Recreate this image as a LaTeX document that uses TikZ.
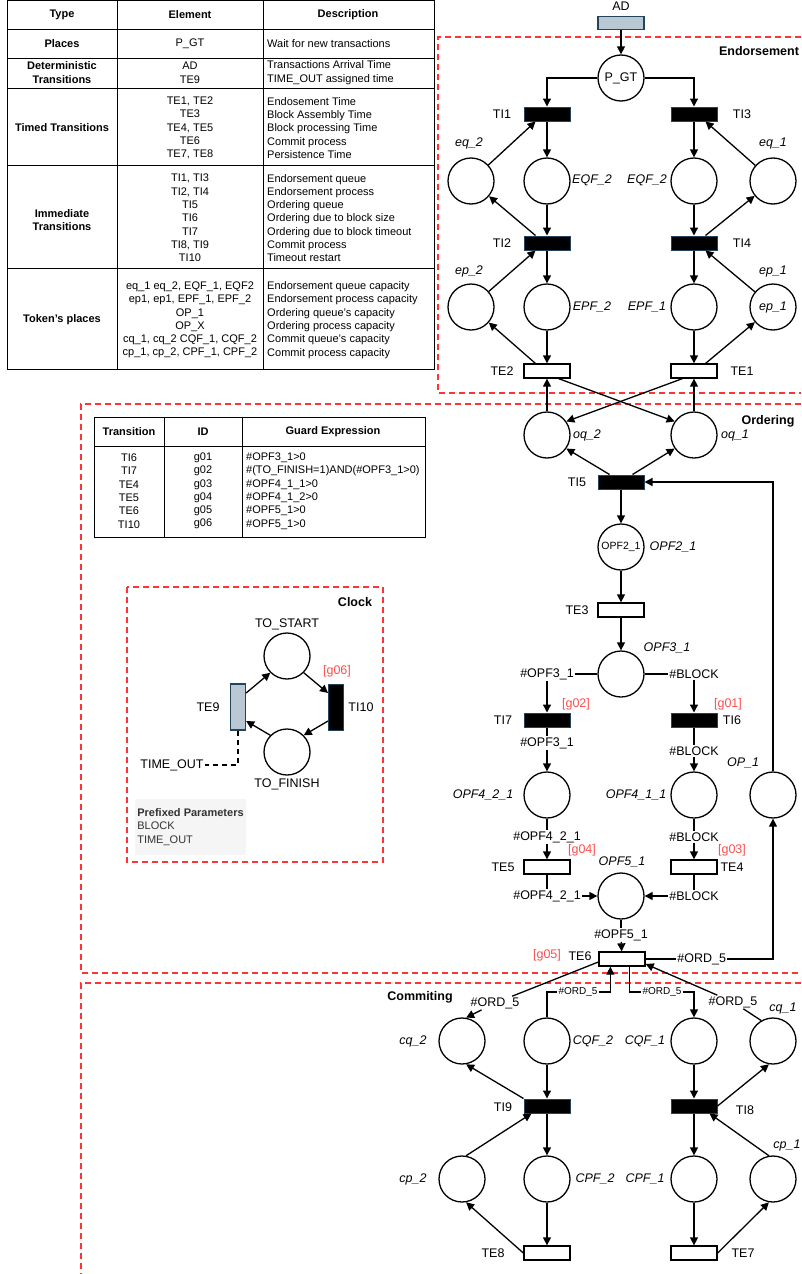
\documentclass[tikz,border=0pt]{standalone}
\usepackage{fontspec}
\setmainfont{Liberation Sans}
\usepackage{tikz}
\usetikzlibrary{shapes.geometric, arrows.meta, positioning}
\definecolor{zonered}{HTML}{FF3333}
\definecolor{guardred}{HTML}{FF4D4D}
\definecolor{tdark}{HTML}{23445D}
\definecolor{tblue}{HTML}{BAC8D3}
\definecolor{gtxt}{HTML}{333333}
\definecolor{gfill}{HTML}{F5F5F5}

\begin{document}
\begin{tikzpicture}[x=1pt, y=-1pt,
  plc/.style={draw, circle, line width=1.3pt, minimum size=46pt, inner sep=0pt,
              font=\fontsize{12.5}{14}\selectfont},
  imm/.style={draw=tdark, fill=black, line width=1pt, minimum width=46pt,
              minimum height=14pt, inner sep=0pt},
  tmd/.style={draw, fill=white, line width=1.3pt, minimum width=46pt,
              minimum height=14pt, inner sep=0pt},
  det/.style={draw=tdark, fill=tblue, line width=1.3pt, minimum width=46pt,
              minimum height=13pt, inner sep=0pt},
  lbl/.style={font=\fontsize{12.5}{14}\selectfont, inner sep=1pt},
  ital/.style={font=\fontsize{12.5}{14}\selectfont\itshape, inner sep=1pt},
  grd/.style={lbl, text=guardred},
  edl/.style={lbl, fill=white},
  sedl/.style={fill=white, inner sep=1pt, font=\fontsize{10}{11}\selectfont},
  arr/.style={-{Triangle[length=8pt,width=8pt]}, line width=1.3pt},
  ln/.style={line width=1.3pt},
  zone/.style={draw=zonered, line width=1.3pt, dash pattern=on 6pt off 4pt},
  zname/.style={font=\fontsize{12.5}{14}\selectfont\bfseries, inner sep=0pt},
  tline/.style={line width=1pt},
  hcell/.style={font=\fontsize{11}{13.3}\selectfont\bfseries, align=center, inner sep=0pt},
  cell/.style={font=\fontsize{11}{13.3}\selectfont, align=center, inner sep=0pt},
  dcell/.style={cell, align=left, anchor=west},
  pbox/.style={fill=gfill, text=gtxt, minimum width=111pt, minimum height=56pt,
               align=left, inner sep=2pt,
               font=\fontsize{11}{13.5}\selectfont},
]
  \useasboundingbox (0,0) rectangle (802,1274);

  % table of elements
  \draw[tline] (7,0.5) rectangle (434,369);
  \foreach \yy in {29,58,88,165,268} \draw[tline] (7,\yy) -- (434,\yy);
  \foreach \xx in {117,263} \draw[tline] (\xx,0.5) -- (\xx,369);

  \node[hcell] (tType) at (62,15) {Type};
  \node[hcell] (tElem) at (190,15) {Element};
  \node[hcell] (tDesc) at (348,15) {Description};
  \node[hcell] (tPl) at (62,44) {Places};
  \node[cell] (ePl) at (190,44) {P\_GT};
  \node[dcell] (dPl) at (267,44) {Wait for new transactions};
  \node[hcell, font=\fontsize{11}{14}\selectfont\bfseries] (tDe) at (62,73) {Deterministic\\Transitions};
  \node[cell, font=\fontsize{11}{14}\selectfont] (eDe) at (190,73) {AD\\TE9};
  \node[dcell, font=\fontsize{11}{14}\selectfont] (dDe) at (267,73) {Transactions Arrival Time\\TIME\_OUT assigned time};
  \node[hcell] (tTi) at (62,128) {Timed Transitions};
  \node[cell] (eTi) at (190,128) {TE1, TE2\\TE3\\TE4, TE5\\TE6\\TE7, TE8};
  \node[dcell] (dTi) at (267,128) {Endosement Time\\Block Assembly Time\\Block processing Time\\Commit process\\Persistence Time};
  \node[hcell] (tIm) at (62,220) {Immediate\\Transitions};
  \node[cell] (eIm) at (190,218) {TI1, TI3\\TI2, TI4\\TI5\\TI6\\TI7\\TI8, TI9\\TI10};
  \node[dcell] (dIm) at (267,218) {Endorsement queue\\Endorsement process\\Ordering queue\\Ordering due to block size\\Ordering due to block timeout\\Commit process\\Timeout restart};
  \node[hcell] (tTo) at (62,320) {Token's places};
  \node[cell] (eTo) at (190,320) {eq\_1 eq\_2, EQF\_1, EQF2\\ep1, ep1, EPF\_1, EPF\_2\\OP\_1\\OP\_X\\cq\_1, cq\_2 CQF\_1, CQF\_2\\cp\_1, cp\_2, CPF\_1, CPF\_2};
  \node[dcell] (dTo) at (267,320) {Endorsement queue capacity\\Endorsement process capacity\\Ordering queue's capacity\\Ordering process capacity\\Commit queue's capacity\\Commit process capacity};

  % zones
  \draw[zone] (801,37) -- (438,37) -- (438,393) -- (801,393);
  \draw[zone] (801,404) -- (81,404) -- (81,973) -- (801,973);
  \draw[zone] (801,983) -- (81,983) -- (81,1274);
  \draw[zone] (127,587) rectangle (383,862);
  \node[zname] (zEnd) at (759,51) {Endorsement};
  \node[zname] (zOrd) at (768,421) {Ordering};
  \node[zname] (zCom) at (420,997) {Commiting};
  \node[zname] (zClk) at (355,602) {Clock};

  % guard table
  \draw[tline] (94,417) rectangle (425,537);
  \draw[tline] (94,446) -- (425,446);
  \foreach \xx in {164,242} \draw[tline] (\xx,417) -- (\xx,537);
  \node[hcell] (gTr) at (129,432) {Transition};
  \node[hcell] (gId) at (203,432) {ID};
  \node[hcell] (gEx) at (333,432) {Guard Expression};
  \node[cell] (gTrv) at (129,491) {TI6\\TI7\\TE4\\TE5\\TE6\\TI10};
  \node[cell] (gIdv) at (203,491) {g01\\g02\\g03\\g04\\g05\\g06};
  \node[dcell] (gExv) at (246,491) {\#OPF3\_1>0\\\#(TO\_FINISH=1)AND(\#OPF3\_1>0)\\\#OPF4\_1\_1>0\\\#OPF4\_1\_2>0\\\#OPF5\_1>0\\\#OPF5\_1>0};

  % endorsement
  \node[det] (ad) at (621,23) {};
  \node[lbl] (adl) at (621,6) {AD};
  \node[plc] (pgt) at (621,78) {P\_GT};
  \node[imm] (ti1) at (547,114) {};
  \node[imm] (ti3) at (694,114) {};
  \node[lbl] (ti1l) at (502,114) {TI1};
  \node[lbl] (ti3l) at (742,114) {TI3};
  \node[plc] (eq2) at (471,181) {};
  \node[plc] (eqf2) at (547,181) {};
  \node[plc] (eqf1) at (694,181) {};
  \node[plc] (eq1) at (773,181) {};
  \node[ital] (eq2l) at (469,143) {eq\_2};
  \node[ital] (eq1l) at (773,143) {eq\_1};
  \node[ital] (eqf2l) at (592,180) {EQF\_2};
  \node[ital] (eqf1l) at (647,180) {EQF\_2};
  \node[imm] (ti2) at (547,243) {};
  \node[imm] (ti4) at (694,243) {};
  \node[lbl] (ti2l) at (502,243) {TI2};
  \node[lbl] (ti4l) at (742,243) {TI4};
  \node[plc] (ep2) at (471,307) {};
  \node[plc] (epf2) at (547,307) {};
  \node[plc] (epf1) at (694,307) {};
  \node[plc, font=\fontsize{12.5}{14}\selectfont\itshape] (ep1) at (773,307) {ep\_1};
  \node[ital] (ep2l) at (469,271) {ep\_2};
  \node[ital] (ep1l) at (773,271) {ep\_1};
  \node[ital] (epf2l) at (592,307) {EPF\_2};
  \node[ital] (epf1l) at (647,307) {EPF\_1};
  \node[tmd] (te2) at (547,371) {};
  \node[tmd] (te1) at (694,371) {};
  \node[lbl] (te2l) at (502,371) {TE2};
  \node[lbl] (te1l) at (742,371) {TE1};

  \draw[arr] (ad) -- (pgt);
  \draw[arr] (pgt) -| (ti1);
  \draw[arr] (pgt) -| (ti3);
  \draw[arr] (eq2) -- ([xshift=12pt]ti1.south west);
  \draw[arr] (ti1) -- (eqf2);
  \draw[arr] (eqf2) -- (ti2);
  \draw[arr] ([xshift=12pt]ti2.north west) -- (eq2);
  \draw[arr] (ep2) -- ([xshift=12pt]ti2.south west);
  \draw[arr] (ti2) -- (epf2);
  \draw[arr] (epf2) -- (te2);
  \draw[arr] ([xshift=12pt]te2.north west) -- (ep2);
  \draw[arr] (eq1) -- ([xshift=-12pt]ti3.south east);
  \draw[arr] (ti3) -- (eqf1);
  \draw[arr] (eqf1) -- (ti4);
  \draw[arr] ([xshift=-12pt]ti4.north east) -- (eq1);
  \draw[arr] (ep1) -- ([xshift=-12pt]ti4.south east);
  \draw[arr] (ti4) -- (epf1);
  \draw[arr] (epf1) -- (te1);
  \draw[arr] ([xshift=-12pt]te1.north east) -- (ep1);

  % ordering
  \node[plc] (oq2) at (547,435) {};
  \node[plc] (oq1) at (694,435) {};
  \node[ital] (oq2l) at (587,435) {oq\_2};
  \node[ital] (oq1l) at (735,435) {oq\_1};
  \node[imm] (ti5) at (621,482) {};
  \node[lbl] (ti5l) at (577,482) {TI5};
  \node[plc, font=\fontsize{10.5}{12}\selectfont] (opf21) at (621,547) {OPF2\_1};
  \node[ital] (opf21l) at (673,547) {OPF2\_1};
  \node[tmd] (te3) at (621,610) {};
  \node[lbl] (te3l) at (577,610) {TE3};
  \node[plc] (opf31) at (621,674) {};
  \node[ital] (opf31l) at (667,648) {OPF3\_1};
  \node[lbl] (hOa) at (547,674) {\#OPF3\_1};
  \node[lbl] (hBa) at (694,674) {\#BLOCK};
  \node[imm] (ti7) at (547,720) {};
  \node[imm] (ti6) at (694,720) {};
  \node[lbl] (ti7l) at (503,720) {TI7};
  \node[lbl] (ti6l) at (732,720) {TI6};
  \node[grd] (g02) at (576,704) {[g02]};
  \node[grd] (g01) at (728,704) {[g01]};
  \node[lbl] (hOb) at (547,743) {\#OPF3\_1};
  \node[lbl] (hBb) at (694,751) {\#BLOCK};
  \node[plc] (opf421) at (547,795) {};
  \node[plc] (opf411) at (694,795) {};
  \node[plc] (op1) at (773,795) {};
  \node[ital] (opf421l) at (483,795) {OPF4\_2\_1};
  \node[ital] (opf411l) at (636,795) {OPF4\_1\_1};
  \node[ital] (op1l) at (743,763) {OP\_1};
  \node[lbl] (hOc) at (547,837) {\#OPF4\_2\_1};
  \node[lbl] (hBc) at (694,837) {\#BLOCK};
  \node[tmd] (te5) at (547,867) {};
  \node[tmd] (te4) at (694,867) {};
  \node[lbl] (te5l) at (503,867) {TE5};
  \node[lbl] (te4l) at (732,867) {TE4};
  \node[grd] (g04) at (582,850) {[g04]};
  \node[grd] (g03) at (732,850) {[g03]};
  \node[plc] (opf51) at (621,896) {};
  \node[ital] (opf51l) at (622,862) {OPF5\_1};
  \node[lbl] (hOd) at (547,896) {\#OPF4\_2\_1};
  \node[lbl] (hBd) at (694,896) {\#BLOCK};
  \node[lbl] (hOe) at (621,935) {\#OPF5\_1};
  \node[tmd] (te6) at (622,959) {};
  \node[lbl] (te6l) at (580,956) {TE6};
  \node[grd] (g05) at (547,955) {[g05]};

  \draw[arr] ([xshift=-12pt]te2.south east) -- (oq1.145);
  \draw[arr] ([xshift=12pt]te1.south west) -- (oq2.35);
  \draw[arr] (oq2) -- (te2);
  \draw[arr] (oq1) -- (te1);
  \draw[arr] ([xshift=12pt]ti5.north west) -- (oq2.-35);
  \draw[arr] ([xshift=-12pt]ti5.north east) -- (oq1.215);
  \draw[arr] (ti5) -- (opf21);
  \draw[arr] (op1) |- (ti5);
  \draw[arr] (opf21) -- (te3);
  \draw[arr] (te3) -- (opf31);
  \draw[ln] (opf31) -- (hOa);
  \draw[arr] (hOa) -- (ti7);
  \draw[ln] (opf31) -- (hBa);
  \draw[arr] (hBa) -- (ti6);
  \draw[ln] (ti7) -- (hOb);
  \draw[arr] (hOb) -- (opf421);
  \draw[ln] (ti6) -- (hBb);
  \draw[arr] (hBb) -- (opf411);
  \draw[ln] (opf421) -- (hOc);
  \draw[arr] (hOc) -- (te5);
  \draw[ln] (opf411) -- (hBc);
  \draw[arr] (hBc) -- (te4);
  \draw[ln] (te5) -- (hOd);
  \draw[arr] (hOd) -- (opf51);
  \draw[ln] (te4) -- (hBd);
  \draw[arr] (hBd) -- (opf51);
  \draw[ln] (opf51) -- (hOe);
  \draw[arr] (hOe) -- (te6);
  \draw[arr] (te6) -| node[edl, pos=0.22] (o5a) {\#ORD\_5} (op1);

  % clock
  \node[plc] (tost) at (287,656) {};
  \node[plc] (tofi) at (287,752) {};
  \node[lbl] (tostl) at (287,624) {TO\_START};
  \node[lbl] (tofil) at (287,784) {TO\_FINISH};
  \node[det, minimum width=15pt, minimum height=46pt] (te9) at (238,707) {};
  \node[imm, minimum width=15pt, minimum height=46pt] (ti10) at (336,707) {};
  \node[lbl] (te9l) at (208,707) {TE9};
  \node[lbl] (ti10l) at (361,707) {TI10};
  \node[grd] (g06) at (337,671) {[g06]};
  \node[lbl] (tout) at (172,765) {TIME\_OUT};
  \node[pbox] (prm) at (190.5,827) {\textbf{Prefixed Parameters}\\BLOCK\\TIME\_OUT};

  \draw[arr] ([yshift=14pt]te9.east) -- (tost.225);
  \draw[arr] (tost.-45) -- ([yshift=14pt]ti10.west);
  \draw[arr] ([yshift=-14pt]ti10.west) -- (tofi.45);
  \draw[arr] (tofi.135) -- ([yshift=-14pt]te9.east);
  \draw[ln, dash pattern=on 5pt off 4pt] (te9) |- (tout);

  % commiting
  \node[plc] (cq2) at (462,1041) {};
  \node[plc] (cqf2) at (547,1041) {};
  \node[plc] (cqf1) at (694,1041) {};
  \node[plc] (cq1) at (773,1041) {};
  \node[ital] (cq2l) at (413,1041) {cq\_2};
  \node[ital] (cqf2l) at (593,1041) {CQF\_2};
  \node[ital] (cqf1l) at (645,1041) {CQF\_1};
  \node[ital] (cq1l) at (783,1008) {cq\_1};
  \node[edl] (o5b) at (495,1003) {\#ORD\_5};
  \node[sedl] (o5c) at (578,992) {\#ORD\_5};
  \node[sedl] (o5d) at (662,992) {\#ORD\_5};
  \node[edl] (o5e) at (733,1002) {\#ORD\_5};
  \node[imm] (ti9) at (547,1106) {};
  \node[imm] (ti8) at (694,1106) {};
  \node[lbl] (ti9l) at (503,1107) {TI9};
  \node[lbl] (ti8l) at (745,1110) {TI8};
  \node[plc] (cp2) at (462,1179) {};
  \node[plc] (cpf2) at (547,1179) {};
  \node[plc] (cpf1) at (694,1179) {};
  \node[plc] (cp1) at (773,1179) {};
  \node[ital] (cp2l) at (413,1179) {cp\_2};
  \node[ital] (cpf2l) at (595,1179) {CPF\_2};
  \node[ital] (cpf1l) at (645,1179) {CPF\_1};
  \node[ital] (cp1l) at (787,1145) {cp\_1};
  \node[tmd] (te8) at (547,1253) {};
  \node[tmd] (te7) at (694,1253) {};
  \node[lbl] (te8l) at (493,1253) {TE8};
  \node[lbl] (te7l) at (743,1253) {TE7};

  \draw[arr] ([yshift=-3pt]te6.west) -- (o5b) -- (cq2.80);
  \draw[arr] (cqf2) |- (o5c) -| ([xshift=12pt]te6.south west);
  \draw[arr] ([xshift=-16pt]te6.south east) |- (o5d) -| (cqf1);
  \draw[arr] (cq1.120) -- (o5e) -- ([yshift=-5pt]te6.east);
  \draw[arr] (cqf2) -- (ti9);
  \draw[arr] (ti9.north west) -- (cq2.-80);
  \draw[arr] (cp2.80) -- ([xshift=8pt]ti9.south west);
  \draw[arr] (ti9) -- (cpf2);
  \draw[arr] (cpf2) -- (te8);
  \draw[arr] (te8.west) -- (cp2.-80);
  \draw[arr] (cqf1) -- (ti8);
  \draw[arr] (ti8.east) -- (cq1.-100);
  \draw[arr] (cp1.100) -- ([xshift=-8pt]ti8.south east);
  \draw[arr] (ti8) -- (cpf1);
  \draw[arr] (cpf1) -- (te7);
  \draw[arr] (te7.east) -- (cp1.-100);
\end{tikzpicture}
\end{document}
